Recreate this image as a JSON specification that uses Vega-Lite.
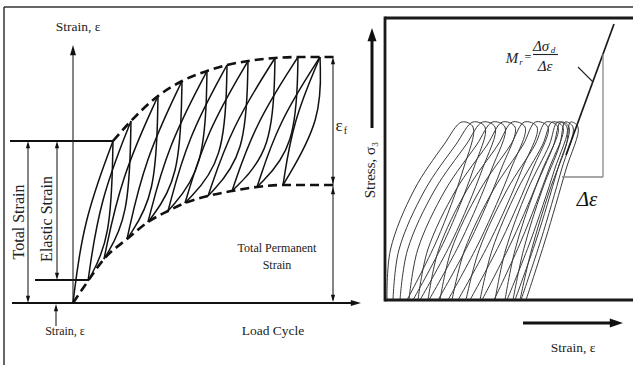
{
  "$schema": "https://vega.github.io/schema/vega-lite/v6.json",
  "width": 633,
  "height": 365,
  "padding": 0,
  "autosize": {"type": "none"},
  "background": "white",
  "config": {"view": {"stroke": null}},
  "datasets": {
    "segs": [
      {"g":"f1","k":"frame","o":0,"x":4,"y":7},{"g":"f1","k":"frame","o":1,"x":4,"y":365},
      {"g":"f2","k":"frame","o":0,"x":4,"y":7},{"g":"f2","k":"frame","o":1,"x":633,"y":7},
      {"g":"b1","k":"box","o":0,"x":385,"y":16.6},{"g":"b1","k":"box","o":1,"x":385,"y":301.4},
      {"g":"b2","k":"box","o":0,"x":385,"y":18},{"g":"b2","k":"box","o":1,"x":633,"y":18},
      {"g":"b3","k":"box","o":0,"x":385,"y":300},{"g":"b3","k":"box","o":1,"x":633,"y":300},
      {"g":"ax2","k":"thick","o":0,"x":12,"y":303},{"g":"ax2","k":"thick","o":1,"x":352,"y":303},
      {"g":"r1","k":"thick","o":0,"x":10,"y":141},{"g":"r1","k":"thick","o":1,"x":113,"y":141},
      {"g":"r2","k":"thick","o":0,"x":35,"y":280},{"g":"r2","k":"thick","o":1,"x":88,"y":280},
      {"g":"ax1","k":"thin","o":0,"x":73,"y":303},{"g":"ax1","k":"thin","o":1,"x":73,"y":54},
      {"g":"ts","k":"thin","o":0,"x":28,"y":146},{"g":"ts","k":"thin","o":1,"x":28,"y":298},
      {"g":"es","k":"thin","o":0,"x":57,"y":146},{"g":"es","k":"thin","o":1,"x":57,"y":275},
      {"g":"sa","k":"thin","o":0,"x":56,"y":326},{"g":"sa","k":"thin","o":1,"x":56,"y":309},
      {"g":"dm","k":"thin","o":0,"x":333,"y":60},{"g":"dm","k":"thin","o":1,"x":333,"y":300},
      {"g":"fb","k":"thin","o":0,"x":533,"y":54.5},{"g":"fb","k":"thin","o":1,"x":558,"y":54.5},
      {"g":"tk","k":"thin","o":0,"x":578,"y":67},{"g":"tk","k":"thin","o":1,"x":593,"y":82},
      {"g":"tn","k":"tan","o":0,"x":566,"y":155},{"g":"tn","k":"tan","o":1,"x":614,"y":24},
      {"g":"lg1","k":"leg","o":0,"x":603,"y":54},{"g":"lg1","k":"leg","o":1,"x":603,"y":177},
      {"g":"lg2","k":"leg","o":0,"x":562,"y":177},{"g":"lg2","k":"leg","o":1,"x":603,"y":177},
      {"g":"sb","k":"bold","o":0,"x":372,"y":128},{"g":"sb","k":"bold","o":1,"x":372,"y":38},
      {"g":"eb","k":"bold","o":0,"x":523,"y":323},{"g":"eb","k":"bold","o":1,"x":612,"y":323},
      {"g":"Ld0","k":"c","o":0,"x":73,"y":303},{"g":"Ld0","k":"c","o":1,"x":83,"y":222},{"g":"Ld0","k":"c","o":2,"x":113,"y":141},
      {"g":"Ld1","k":"c","o":0,"x":88,"y":281},{"g":"Ld1","k":"c","o":1,"x":99.5,"y":201},{"g":"Ld1","k":"c","o":2,"x":131,"y":121},
      {"g":"Ld2","k":"c","o":0,"x":104,"y":259},{"g":"Ld2","k":"c","o":1,"x":121,"y":177.5},{"g":"Ld2","k":"c","o":2,"x":158,"y":96},
      {"g":"Ld3","k":"c","o":0,"x":127,"y":239},{"g":"Ld3","k":"c","o":1,"x":144.5,"y":160},{"g":"Ld3","k":"c","o":2,"x":182,"y":81},
      {"g":"Ld4","k":"c","o":0,"x":148,"y":222},{"g":"Ld4","k":"c","o":1,"x":167.5,"y":146.5},{"g":"Ld4","k":"c","o":2,"x":207,"y":71},
      {"g":"Ld5","k":"c","o":0,"x":168,"y":211},{"g":"Ld5","k":"c","o":1,"x":187.5,"y":138},{"g":"Ld5","k":"c","o":2,"x":227,"y":65},
      {"g":"Ld6","k":"c","o":0,"x":185,"y":203},{"g":"Ld6","k":"c","o":1,"x":206.5,"y":132},{"g":"Ld6","k":"c","o":2,"x":248,"y":61},
      {"g":"Ld7","k":"c","o":0,"x":208,"y":196},{"g":"Ld7","k":"c","o":1,"x":231.5,"y":127},{"g":"Ld7","k":"c","o":2,"x":275,"y":58},
      {"g":"Ld8","k":"c","o":0,"x":232,"y":191},{"g":"Ld8","k":"c","o":1,"x":255,"y":124},{"g":"Ld8","k":"c","o":2,"x":298,"y":57},
      {"g":"Ld9","k":"c","o":0,"x":257,"y":187},{"g":"Ld9","k":"c","o":1,"x":278.5,"y":122},{"g":"Ld9","k":"c","o":2,"x":320,"y":57},
      {"g":"Ld10","k":"c","o":0,"x":283,"y":185},{"g":"Ld10","k":"c","o":1,"x":293,"y":121},{"g":"Ld10","k":"c","o":2,"x":320,"y":57},
      {"g":"Ul0","k":"c","o":0,"x":113,"y":141},{"g":"Ul0","k":"c","o":1,"x":111,"y":239},{"g":"Ul0","k":"c","o":2,"x":88,"y":281},
      {"g":"Ul1","k":"c","o":0,"x":131,"y":121},{"g":"Ul1","k":"c","o":1,"x":129,"y":217.6},{"g":"Ul1","k":"c","o":2,"x":104,"y":259},
      {"g":"Ul2","k":"c","o":0,"x":158,"y":96},{"g":"Ul2","k":"c","o":1,"x":156,"y":196},{"g":"Ul2","k":"c","o":2,"x":127,"y":239},
      {"g":"Ul3","k":"c","o":0,"x":182,"y":81},{"g":"Ul3","k":"c","o":1,"x":180,"y":179.7},{"g":"Ul3","k":"c","o":2,"x":148,"y":222},
      {"g":"Ul4","k":"c","o":0,"x":207,"y":71},{"g":"Ul4","k":"c","o":1,"x":205,"y":169},{"g":"Ul4","k":"c","o":2,"x":168,"y":211},
      {"g":"Ul5","k":"c","o":0,"x":227,"y":65},{"g":"Ul5","k":"c","o":1,"x":225,"y":161.6},{"g":"Ul5","k":"c","o":2,"x":185,"y":203},
      {"g":"Ul6","k":"c","o":0,"x":248,"y":61},{"g":"Ul6","k":"c","o":1,"x":246,"y":155.5},{"g":"Ul6","k":"c","o":2,"x":208,"y":196},
      {"g":"Ul7","k":"c","o":0,"x":275,"y":58},{"g":"Ul7","k":"c","o":1,"x":273,"y":151},{"g":"Ul7","k":"c","o":2,"x":232,"y":191},
      {"g":"Ul8","k":"c","o":0,"x":298,"y":57},{"g":"Ul8","k":"c","o":1,"x":296,"y":148},{"g":"Ul8","k":"c","o":2,"x":257,"y":187},
      {"g":"Cl","k":"c","o":0,"x":320,"y":57},{"g":"Cl","k":"c","o":1,"x":322,"y":119.5},{"g":"Cl","k":"c","o":2,"x":283,"y":185},
      {"g":"eu","k":"env","o":0,"x":113,"y":141},{"g":"eu","k":"env","o":1,"x":131,"y":121},{"g":"eu","k":"env","o":2,"x":158,"y":96},
      {"g":"eu","k":"env","o":3,"x":182,"y":81},{"g":"eu","k":"env","o":4,"x":207,"y":71},{"g":"eu","k":"env","o":5,"x":227,"y":65},
      {"g":"eu","k":"env","o":6,"x":248,"y":61},{"g":"eu","k":"env","o":7,"x":275,"y":58},{"g":"eu","k":"env","o":8,"x":298,"y":57},
      {"g":"eu","k":"env","o":9,"x":320,"y":57},{"g":"eu","k":"env","o":10,"x":334,"y":57},
      {"g":"el","k":"env","o":0,"x":73,"y":303},{"g":"el","k":"env","o":1,"x":88,"y":281},{"g":"el","k":"env","o":2,"x":104,"y":259},
      {"g":"el","k":"env","o":3,"x":127,"y":239},{"g":"el","k":"env","o":4,"x":148,"y":222},{"g":"el","k":"env","o":5,"x":168,"y":211},
      {"g":"el","k":"env","o":6,"x":185,"y":203},{"g":"el","k":"env","o":7,"x":208,"y":196},{"g":"el","k":"env","o":8,"x":232,"y":191},
      {"g":"el","k":"env","o":9,"x":257,"y":187},{"g":"el","k":"env","o":10,"x":283,"y":185},{"g":"el","k":"env","o":11,"x":334,"y":185}
    ],
    "loops": [
      {"g":0,"o":0,"x":387,"y":300},{"g":0,"o":1,"x":390.4,"y":250},{"g":0,"o":2,"x":414.1,"y":190},{"g":0,"o":3,"x":443.7,"y":145},{"g":0,"o":4,"x":461.8,"y":122},{"g":0,"o":5,"x":473,"y":127},{"g":0,"o":6,"x":463,"y":170},{"g":0,"o":7,"x":437,"y":240},{"g":0,"o":8,"x":407,"y":300},
      {"g":1,"o":0,"x":393,"y":300},{"g":1,"o":1,"x":398.9,"y":250},{"g":1,"o":2,"x":424.9,"y":190},{"g":1,"o":3,"x":455.6,"y":145},{"g":1,"o":4,"x":473,"y":122},{"g":1,"o":5,"x":485,"y":127},{"g":1,"o":6,"x":473.1,"y":170},{"g":1,"o":7,"x":444.8,"y":240},{"g":1,"o":8,"x":413,"y":300},
      {"g":2,"o":0,"x":400,"y":300},{"g":2,"o":1,"x":407.5,"y":250},{"g":2,"o":2,"x":434.7,"y":190},{"g":2,"o":3,"x":465.9,"y":145},{"g":2,"o":4,"x":482.6,"y":122},{"g":2,"o":5,"x":495,"y":127},{"g":2,"o":6,"x":482,"y":170},{"g":2,"o":7,"x":452.5,"y":240},{"g":2,"o":8,"x":420,"y":300},
      {"g":3,"o":0,"x":409,"y":300},{"g":3,"o":1,"x":417.6,"y":250},{"g":3,"o":2,"x":445.3,"y":190},{"g":3,"o":3,"x":476.5,"y":145},{"g":3,"o":4,"x":492.5,"y":122},{"g":3,"o":5,"x":505,"y":127},{"g":3,"o":6,"x":491.4,"y":170},{"g":3,"o":7,"x":461.5,"y":240},{"g":3,"o":8,"x":429,"y":300},
      {"g":4,"o":0,"x":418,"y":300},{"g":4,"o":1,"x":427.7,"y":250},{"g":4,"o":2,"x":455.9,"y":190},{"g":4,"o":3,"x":487.1,"y":145},{"g":4,"o":4,"x":502.4,"y":122},{"g":4,"o":5,"x":515,"y":127},{"g":4,"o":6,"x":500.8,"y":170},{"g":4,"o":7,"x":470.5,"y":240},{"g":4,"o":8,"x":438,"y":300},
      {"g":5,"o":0,"x":428,"y":300},{"g":5,"o":1,"x":438.5,"y":250},{"g":5,"o":2,"x":466.9,"y":190},{"g":5,"o":3,"x":497.8,"y":145},{"g":5,"o":4,"x":512.4,"y":122},{"g":5,"o":5,"x":525,"y":127},{"g":5,"o":6,"x":510.5,"y":170},{"g":5,"o":7,"x":480.2,"y":240},{"g":5,"o":8,"x":448,"y":300},
      {"g":6,"o":0,"x":440,"y":300},{"g":6,"o":1,"x":451.3,"y":250},{"g":6,"o":2,"x":479.9,"y":190},{"g":6,"o":3,"x":510.5,"y":145},{"g":6,"o":4,"x":524.4,"y":122},{"g":6,"o":5,"x":537,"y":127},{"g":6,"o":6,"x":521.7,"y":170},{"g":6,"o":7,"x":490.6,"y":240},{"g":6,"o":8,"x":458,"y":300},
      {"g":7,"o":0,"x":452,"y":300},{"g":7,"o":1,"x":464.6,"y":250},{"g":7,"o":2,"x":493.3,"y":190},{"g":7,"o":3,"x":523,"y":145},{"g":7,"o":4,"x":535.5,"y":122},{"g":7,"o":5,"x":548,"y":127},{"g":7,"o":6,"x":532.3,"y":170},{"g":7,"o":7,"x":501.7,"y":240},{"g":7,"o":8,"x":470,"y":300},
      {"g":8,"o":0,"x":466,"y":300},{"g":8,"o":1,"x":479.1,"y":250},{"g":8,"o":2,"x":506.9,"y":190},{"g":8,"o":3,"x":534.9,"y":145},{"g":8,"o":4,"x":546,"y":122},{"g":8,"o":5,"x":558,"y":127},{"g":8,"o":6,"x":542.3,"y":170},{"g":8,"o":7,"x":512.4,"y":240},{"g":8,"o":8,"x":482,"y":300},
      {"g":9,"o":0,"x":480,"y":300},{"g":9,"o":1,"x":492.1,"y":250},{"g":9,"o":2,"x":517.3,"y":190},{"g":9,"o":3,"x":542.5,"y":145},{"g":9,"o":4,"x":552.2,"y":122},{"g":9,"o":5,"x":563,"y":127},{"g":9,"o":6,"x":548.6,"y":170},{"g":9,"o":7,"x":521.5,"y":240},{"g":9,"o":8,"x":494,"y":300},
      {"g":10,"o":0,"x":495,"y":300},{"g":10,"o":1,"x":505.6,"y":250},{"g":10,"o":2,"x":527.5,"y":190},{"g":10,"o":3,"x":549.3,"y":145},{"g":10,"o":4,"x":557.6,"y":122},{"g":10,"o":5,"x":567,"y":127},{"g":10,"o":6,"x":554.4,"y":170},{"g":10,"o":7,"x":530.8,"y":240},{"g":10,"o":8,"x":507,"y":300},
      {"g":11,"o":0,"x":505,"y":300},{"g":11,"o":1,"x":515,"y":250},{"g":11,"o":2,"x":534.6,"y":190},{"g":11,"o":3,"x":553.7,"y":145},{"g":11,"o":4,"x":560.7,"y":122},{"g":11,"o":5,"x":569,"y":127},{"g":11,"o":6,"x":557.4,"y":170},{"g":11,"o":7,"x":536.2,"y":240},{"g":11,"o":8,"x":515,"y":300},
      {"g":12,"o":0,"x":513,"y":300},{"g":12,"o":1,"x":523.5,"y":250},{"g":12,"o":2,"x":542.1,"y":190},{"g":12,"o":3,"x":559.7,"y":145},{"g":12,"o":4,"x":565.2,"y":122},{"g":12,"o":5,"x":573,"y":127},{"g":12,"o":6,"x":561.4,"y":170},{"g":12,"o":7,"x":540.9,"y":240},{"g":12,"o":8,"x":521,"y":300},
      {"g":13,"o":0,"x":520,"y":300},{"g":13,"o":1,"x":531.5,"y":250},{"g":13,"o":2,"x":549.8,"y":190},{"g":13,"o":3,"x":566.3,"y":145},{"g":13,"o":4,"x":570.5,"y":122},{"g":13,"o":5,"x":578,"y":127},{"g":13,"o":6,"x":565.8,"y":170},{"g":13,"o":7,"x":545.3,"y":240},{"g":13,"o":8,"x":526,"y":300}
    ],
    "arrows": [
      {"a":"upM","x":73,"y":45},{"a":"rightM","x":361,"y":303},
      {"a":"up","x":28,"y":141},{"a":"down","x":28,"y":303},
      {"a":"up","x":57,"y":141},{"a":"down","x":57,"y":280},
      {"a":"up","x":56,"y":304},
      {"a":"up","x":333,"y":57},{"a":"down","x":333,"y":184},{"a":"up","x":333,"y":187},{"a":"down","x":333,"y":302},
      {"a":"upB","x":372,"y":28},{"a":"rightB","x":623,"y":323}
    ],
    "labels": [
      {"k":"a","t":"Strain, ε","x":78,"y":27},
      {"k":"a","t":"Load Cycle","x":273,"y":331},
      {"k":"a","t":"Strain, ε","x":573,"y":348},
      {"k":"b","t":"Strain, ε","x":65,"y":331},
      {"k":"b","t":"Total Permanent","x":277,"y":248},
      {"k":"b","t":"Strain","x":277,"y":265},
      {"k":"rot","t":"Total Strain","x":19,"y":222},
      {"k":"rot","t":"Elastic Strain","x":47,"y":219},
      {"k":"rot2","t":"Stress, σ₃","x":370,"y":170},
      {"k":"it","t":"M","x":512,"y":57.5},
      {"k":"it","t":"Δσ","x":541,"y":46},
      {"k":"it","t":"Δε","x":545,"y":66},
      {"k":"itb","t":"Δε","x":587,"y":200},
      {"k":"sub","t":"r","x":521,"y":62},
      {"k":"sub","t":"d","x":553,"y":50},
      {"k":"eq","t":"=","x":528,"y":57},
      {"k":"eps","t":"ε","x":339,"y":126},
      {"k":"subn","t":"f","x":345.5,"y":130.5}
    ]
  },
  "encoding": {
    "x": {"field": "x", "type": "quantitative", "scale": {"domain": [0, 633]}, "axis": null},
    "y": {"field": "y", "type": "quantitative", "scale": {"domain": [0, 365], "reverse": true}, "axis": null}
  },
  "layer": [
    {"data": {"name": "loops"}, "mark": {"type": "line", "color": "#3a3a3a", "strokeWidth": 1, "interpolate": "catmull-rom"},
     "encoding": {"detail": {"field": "g"}, "order": {"field": "o", "type": "quantitative"}}},
    {"data": {"name": "segs"}, "transform": [{"filter": "datum.k === 'frame'"}], "mark": {"type": "line", "color": "#333", "strokeWidth": 1.5},
     "encoding": {"detail": {"field": "g"}, "order": {"field": "o", "type": "quantitative"}}},
    {"data": {"name": "segs"}, "transform": [{"filter": "datum.k === 'box'"}], "mark": {"type": "line", "color": "#1a1a1a", "strokeWidth": 2.8},
     "encoding": {"detail": {"field": "g"}, "order": {"field": "o", "type": "quantitative"}}},
    {"data": {"name": "segs"}, "transform": [{"filter": "datum.k === 'thick'"}], "mark": {"type": "line", "color": "#111", "strokeWidth": 2.2},
     "encoding": {"detail": {"field": "g"}, "order": {"field": "o", "type": "quantitative"}}},
    {"data": {"name": "segs"}, "transform": [{"filter": "datum.k === 'thin'"}], "mark": {"type": "line", "color": "#222", "strokeWidth": 1.1},
     "encoding": {"detail": {"field": "g"}, "order": {"field": "o", "type": "quantitative"}}},
    {"data": {"name": "segs"}, "transform": [{"filter": "datum.k === 'tan'"}], "mark": {"type": "line", "color": "#1a1a1a", "strokeWidth": 1.7},
     "encoding": {"detail": {"field": "g"}, "order": {"field": "o", "type": "quantitative"}}},
    {"data": {"name": "segs"}, "transform": [{"filter": "datum.k === 'leg'"}], "mark": {"type": "line", "color": "#888", "strokeWidth": 1.3},
     "encoding": {"detail": {"field": "g"}, "order": {"field": "o", "type": "quantitative"}}},
    {"data": {"name": "segs"}, "transform": [{"filter": "datum.k === 'bold'"}], "mark": {"type": "line", "color": "#111", "strokeWidth": 3},
     "encoding": {"detail": {"field": "g"}, "order": {"field": "o", "type": "quantitative"}}},
    {"data": {"name": "segs"}, "transform": [{"filter": "datum.k === 'c'"}], "mark": {"type": "line", "color": "#111", "strokeWidth": 1.5, "interpolate": "basis"},
     "encoding": {"detail": {"field": "g"}, "order": {"field": "o", "type": "quantitative"}}},
    {"data": {"name": "segs"}, "transform": [{"filter": "datum.k === 'env'"}], "mark": {"type": "line", "color": "#111", "strokeWidth": 2.6, "strokeDash": [9, 5], "interpolate": "monotone"},
     "encoding": {"detail": {"field": "g"}, "order": {"field": "o", "type": "quantitative"}}},
    {"data": {"name": "arrows"}, "mark": {"type": "point", "filled": true, "opacity": 1, "color": "#111", "size": 144, "strokeWidth": 0},
     "encoding": {"shape": {"field": "a", "type": "nominal", "legend": null,
       "scale": {"domain": ["up", "down", "upM", "rightM", "upB", "rightB"],
                 "range": ["M0,0L0.35,1.2L-0.35,1.2Z", "M0,0L0.35,-1.2L-0.35,-1.2Z", "M0,0L0.5,1.7L-0.5,1.7Z", "M0,0L-1.7,0.5L-1.7,-0.5Z", "M0,0L0.75,2.2L-0.75,2.2Z", "M0,0L-2.2,0.75L-2.2,-0.75Z"]}}}},
    {"data": {"name": "labels"}, "transform": [{"filter": "datum.k === 'a'"}], "mark": {"type": "text", "font": "Liberation Serif", "fontSize": 13.5, "color": "#222", "baseline": "middle", "align": "center"},
     "encoding": {"text": {"field": "t"}}},
    {"data": {"name": "labels"}, "transform": [{"filter": "datum.k === 'b'"}], "mark": {"type": "text", "font": "Liberation Serif", "fontSize": 12, "color": "#222", "baseline": "middle", "align": "center"},
     "encoding": {"text": {"field": "t"}}},
    {"data": {"name": "labels"}, "transform": [{"filter": "datum.k === 'rot'"}], "mark": {"type": "text", "font": "Liberation Serif", "fontSize": 16, "color": "#222", "baseline": "middle", "align": "center", "angle": 270},
     "encoding": {"text": {"field": "t"}}},
    {"data": {"name": "labels"}, "transform": [{"filter": "datum.k === 'rot2'"}], "mark": {"type": "text", "font": "Liberation Serif", "fontSize": 15, "color": "#222", "baseline": "middle", "align": "center", "angle": 270},
     "encoding": {"text": {"field": "t"}}},
    {"data": {"name": "labels"}, "transform": [{"filter": "datum.k === 'it'"}], "mark": {"type": "text", "font": "Liberation Serif", "fontSize": 15, "fontStyle": "italic", "color": "#222", "baseline": "middle", "align": "center"},
     "encoding": {"text": {"field": "t"}}},
    {"data": {"name": "labels"}, "transform": [{"filter": "datum.k === 'itb'"}], "mark": {"type": "text", "font": "Liberation Serif", "fontSize": 21, "fontStyle": "italic", "color": "#111", "baseline": "middle", "align": "center"},
     "encoding": {"text": {"field": "t"}}},
    {"data": {"name": "labels"}, "transform": [{"filter": "datum.k === 'sub'"}], "mark": {"type": "text", "font": "Liberation Serif", "fontSize": 9, "fontStyle": "italic", "color": "#222", "baseline": "middle", "align": "center"},
     "encoding": {"text": {"field": "t"}}},
    {"data": {"name": "labels"}, "transform": [{"filter": "datum.k === 'eq'"}], "mark": {"type": "text", "font": "Liberation Serif", "fontSize": 12, "color": "#222", "baseline": "middle", "align": "center"},
     "encoding": {"text": {"field": "t"}}},
    {"data": {"name": "labels"}, "transform": [{"filter": "datum.k === 'eps'"}], "mark": {"type": "text", "font": "Liberation Serif", "fontSize": 17, "color": "#222", "baseline": "middle", "align": "center"},
     "encoding": {"text": {"field": "t"}}},
    {"data": {"name": "labels"}, "transform": [{"filter": "datum.k === 'subn'"}], "mark": {"type": "text", "font": "Liberation Serif", "fontSize": 10, "color": "#222", "baseline": "middle", "align": "center"},
     "encoding": {"text": {"field": "t"}}}
  ]
}
